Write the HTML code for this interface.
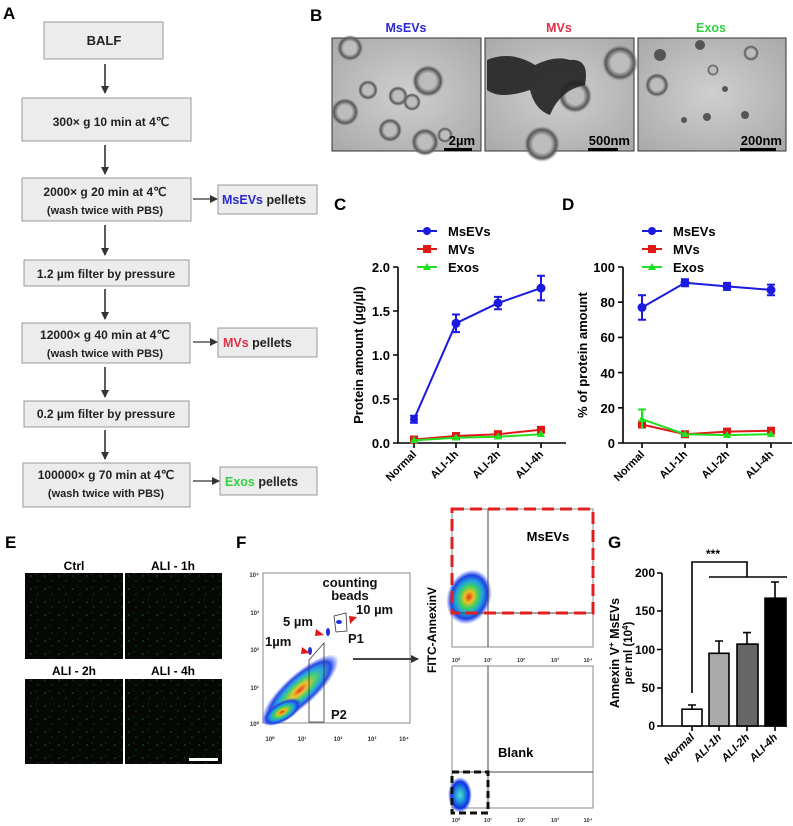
<!DOCTYPE html>
<html><head><meta charset="utf-8"><style>
body{margin:0;background:#fff}
svg{display:block}
text{font-family:"Liberation Sans",Arial,sans-serif;font-weight:bold}
</style></head><body>
<svg width="793" height="826" viewBox="0 0 793 826" xmlns="http://www.w3.org/2000/svg">
<defs>
<marker id="ah" markerWidth="8" markerHeight="8" refX="7" refY="4" orient="auto" markerUnits="userSpaceOnUse"><path d="M0,0 L8,4 L0,8 z" fill="#333"/></marker>
<radialGradient id="tem" cx="50%" cy="50%" r="70%"><stop offset="0" stop-color="#cfcfcf"/><stop offset="1" stop-color="#a9a9a9"/></radialGradient>
<radialGradient id="fl" cx="50%" cy="50%" r="50%"><stop offset="0" stop-color="#e03020"/><stop offset="0.2" stop-color="#f0c020"/><stop offset="0.4" stop-color="#40d060"/><stop offset="0.6" stop-color="#20a0e0"/><stop offset="0.8" stop-color="#2040e0"/><stop offset="1" stop-color="#3050ff" stop-opacity="0"/></radialGradient>
<radialGradient id="fl2" cx="50%" cy="50%" r="50%"><stop offset="0" stop-color="#50e0d0"/><stop offset="0.4" stop-color="#2090e0"/><stop offset="0.75" stop-color="#1030e0"/><stop offset="1" stop-color="#3050ff" stop-opacity="0"/></radialGradient>
<radialGradient id="cell" cx="50%" cy="50%" r="50%"><stop offset="0.5" stop-color="#bdbdbd"/><stop offset="0.8" stop-color="#555"/><stop offset="1" stop-color="#888" stop-opacity="0"/></radialGradient>
<pattern id="dots" width="14" height="13" patternUnits="userSpaceOnUse"><rect width="14" height="13" fill="#050805"/><circle cx="3" cy="4" r="0.8" fill="#1d5a1d"/><circle cx="10" cy="9" r="0.7" fill="#174a17"/><circle cx="8" cy="2" r="0.5" fill="#2a702a"/></pattern>
</defs>

<!-- Panel A -->
<text x="3" y="19" font-size="17">A</text>
<g fill="#ececec" stroke="#999" stroke-width="1">
<rect x="44" y="22" width="119" height="37"/>
<rect x="22" y="98" width="169" height="43"/>
<rect x="22" y="178" width="169" height="43"/>
<rect x="24" y="260" width="165" height="26"/>
<rect x="22" y="323" width="168" height="40"/>
<rect x="24" y="401" width="165" height="26"/>
<rect x="23" y="463" width="167" height="44"/>
<rect x="218" y="185" width="99" height="29"/>
<rect x="218" y="328" width="99" height="29"/>
<rect x="220" y="467" width="97" height="28"/>
</g>
<g font-size="12" text-anchor="middle" fill="#222">
<text x="104" y="45" font-size="13">BALF</text>
<text x="111" y="126">300× g 10 min at  4℃</text>
<text x="105" y="196">2000× g 20 min at  4℃</text>
<text x="105" y="214" font-size="11">(wash twice with PBS)</text>
<text x="106" y="278">1.2 µm filter by pressure</text>
<text x="105" y="339">12000× g 40 min at  4℃</text>
<text x="105" y="357" font-size="11">(wash twice with PBS)</text>
<text x="106" y="418">0.2 µm filter by pressure</text>
<text x="106" y="479">100000× g 70 min at  4℃</text>
<text x="106" y="497" font-size="11">(wash twice with PBS)</text>
</g>
<g font-size="12.5" fill="#222">
<text x="222" y="204"><tspan fill="#2a2ad0">MsEVs</tspan> pellets</text>
<text x="223" y="347"><tspan fill="#e0304a">MVs</tspan> pellets</text>
<text x="225" y="486"><tspan fill="#30d040">Exos</tspan> pellets</text>
</g>
<g stroke="#333" stroke-width="1.6" marker-end="url(#ah)">
<line x1="105" y1="64" x2="105" y2="93"/>
<line x1="105" y1="145" x2="105" y2="174"/>
<line x1="105" y1="225" x2="105" y2="255"/>
<line x1="105" y1="289" x2="105" y2="319"/>
<line x1="105" y1="367" x2="105" y2="397"/>
<line x1="105" y1="430" x2="105" y2="459"/>
</g>
<g stroke="#333" stroke-width="1.3" marker-end="url(#ah)">
<line x1="193" y1="199" x2="217" y2="199"/>
<line x1="193" y1="342" x2="217" y2="342"/>
<line x1="193" y1="481" x2="219" y2="481"/>
</g>

<!-- Panel B -->
<text x="310" y="21" font-size="17">B</text>
<g font-size="12.5" text-anchor="middle">
<text x="406" y="32" fill="#2a2ad0">MsEVs</text>
<text x="559" y="32" fill="#e0304a">MVs</text>
<text x="711" y="32" fill="#30d040">Exos</text>
</g>
<rect x="332" y="38" width="149" height="113" fill="url(#tem)" stroke="#333"/>
<rect x="485" y="38" width="149" height="113" fill="url(#tem)" stroke="#333"/>
<rect x="638" y="38" width="148" height="113" fill="url(#tem)" stroke="#333"/>
<g fill="url(#cell)">
<circle cx="428" cy="81" r="16"/><circle cx="368" cy="90" r="10"/><circle cx="398" cy="96" r="10"/><circle cx="345" cy="112" r="14"/><circle cx="390" cy="130" r="12"/><circle cx="425" cy="142" r="14"/><circle cx="412" cy="102" r="9"/><circle cx="350" cy="48" r="13"/><circle cx="445" cy="135" r="8"/>
<circle cx="620" cy="63" r="18"/><circle cx="575" cy="96" r="17"/><circle cx="542" cy="144" r="18"/><circle cx="751" cy="53" r="8"/><circle cx="657" cy="85" r="12"/><circle cx="713" cy="70" r="6"/>
</g>
<path d="M487,60 Q510,50 535,65 Q555,55 570,60 Q590,58 585,85 Q560,90 550,115 Q535,110 530,90 Q500,100 487,90 z" fill="#222" opacity="0.9"/>
<g fill="#555"><circle cx="707" cy="117" r="4"/><circle cx="745" cy="115" r="4"/><circle cx="684" cy="120" r="3"/><circle cx="725" cy="89" r="3"/><circle cx="660" cy="55" r="6"/><circle cx="700" cy="45" r="5"/></g>
<g font-size="13" fill="#000" text-anchor="end">
<text x="475" y="145">2µm</text><text x="630" y="145">500nm</text><text x="782" y="145">200nm</text>
</g>
<g fill="#000"><rect x="444" y="148" width="28" height="3"/><rect x="588" y="148" width="30" height="3"/><rect x="740" y="148" width="36" height="3"/></g>

<!-- Panel C -->
<text x="334" y="210" font-size="17">C</text>
<g font-size="13">
<line x1="417" y1="231" x2="437" y2="231" stroke="#1a1ae0" stroke-width="2"/><circle cx="427" cy="231" r="4" fill="#1a1ae0"/><text x="448" y="236">MsEVs</text>
<line x1="417" y1="249" x2="437" y2="249" stroke="#e01818" stroke-width="2"/><rect x="423" y="245" width="8" height="8" fill="#e01818"/><text x="448" y="254">MVs</text>
<line x1="417" y1="267" x2="437" y2="267" stroke="#20e020" stroke-width="2"/><path d="M427,263 L431,270 L423,270z" fill="#20e020"/><text x="448" y="272">Exos</text>
</g>
<g stroke="#000" stroke-width="1.6" fill="none">
<path d="M398,267 V443 H566"/>
<path d="M393,267H398M393,311H398M393,355H398M393,399H398M393,443H398"/>
<path d="M414,443v5M456,443v5M498,443v5M541,443v5"/>
</g>
<g font-size="13" text-anchor="end">
<text x="390" y="272">2.0</text><text x="390" y="316">1.5</text><text x="390" y="360">1.0</text><text x="390" y="404">0.5</text><text x="390" y="448">0.0</text>
</g>
<text transform="translate(363,355) rotate(-90)" font-size="13" text-anchor="middle">Protein amount (µg/µl)</text>
<g font-size="11" text-anchor="end">
<text transform="translate(417,455) rotate(-45)">Normal</text>
<text transform="translate(459,455) rotate(-45)">ALI-1h</text>
<text transform="translate(501,455) rotate(-45)">ALI-2h</text>
<text transform="translate(544,455) rotate(-45)">ALI-4h</text>
</g>
<g stroke="#1a1ae0" stroke-width="2" fill="none">
<polyline points="414,419.2 456,323.3 498,303.1 541,288.1"/>
<path d="M414,415.7V422.7M410,415.7h8M410,422.7h8M456,314.5V332.1M452,314.5h8M452,332.1h8M498,296.9V309.3M494,296.9h8M494,309.3h8M541,275.8V300.4M537,275.8h8M537,300.4h8"/>
</g>
<g fill="#1a1ae0"><circle cx="414" cy="419.2" r="4"/><circle cx="456" cy="323.3" r="4.5"/><circle cx="498" cy="303.1" r="4.5"/><circle cx="541" cy="288.1" r="4.5"/></g>
<polyline points="414,439.5 456,436 498,434.2 541,429.8" stroke="#e01818" stroke-width="2" fill="none"/>
<g fill="#e01818"><rect x="410" y="435.5" width="8" height="8"/><rect x="452" y="432" width="8" height="8"/><rect x="494" y="430.2" width="8" height="8"/><rect x="537" y="425.8" width="8" height="8"/></g>
<polyline points="414,440.4 456,437.7 498,436.8 541,434.2" stroke="#20e020" stroke-width="2" fill="none"/>
<g fill="#20e020"><path d="M414,436l4,7h-8z"/><path d="M456,433.5l4,7h-8z"/><path d="M498,432.5l4,7h-8z"/><path d="M541,430l4,7h-8z"/></g>

<!-- Panel D -->
<text x="562" y="210" font-size="17">D</text>
<g font-size="13">
<line x1="642" y1="231" x2="662" y2="231" stroke="#1a1ae0" stroke-width="2"/><circle cx="652" cy="231" r="4" fill="#1a1ae0"/><text x="673" y="236">MsEVs</text>
<line x1="642" y1="249" x2="662" y2="249" stroke="#e01818" stroke-width="2"/><rect x="648" y="245" width="8" height="8" fill="#e01818"/><text x="673" y="254">MVs</text>
<line x1="642" y1="267" x2="662" y2="267" stroke="#20e020" stroke-width="2"/><path d="M652,263 L656,270 L648,270z" fill="#20e020"/><text x="673" y="272">Exos</text>
</g>
<g stroke="#000" stroke-width="1.6" fill="none">
<path d="M623,267 V443 H792"/>
<path d="M618,267H623M618,302.2H623M618,337.4H623M618,372.6H623M618,407.8H623M618,443H623"/>
<path d="M642,443v5M685,443v5M727,443v5M771,443v5"/>
</g>
<g font-size="13" text-anchor="end">
<text x="615" y="272">100</text><text x="615" y="307">80</text><text x="615" y="342">60</text><text x="615" y="378">40</text><text x="615" y="413">20</text><text x="615" y="448">0</text>
</g>
<text transform="translate(587,355) rotate(-90)" font-size="13" text-anchor="middle">% of protein amount</text>
<g font-size="11" text-anchor="end">
<text transform="translate(645,455) rotate(-45)">Normal</text>
<text transform="translate(688,455) rotate(-45)">ALI-1h</text>
<text transform="translate(730,455) rotate(-45)">ALI-2h</text>
<text transform="translate(774,455) rotate(-45)">ALI-4h</text>
</g>
<g stroke="#1a1ae0" stroke-width="2" fill="none">
<polyline points="642,307.5 685,282.8 727,286.4 771,289.9"/>
<path d="M642,295.2V319.8M638,295.2h8M638,319.8h8M685,279.3V286.3M681,279.3h8M681,286.3h8M727,282.9V289.9M723,282.9h8M723,289.9h8M771,284.6V295.2M767,284.6h8M767,295.2h8"/>
</g>
<g fill="#1a1ae0"><circle cx="642" cy="307.5" r="4.5"/><circle cx="685" cy="282.8" r="4.5"/><circle cx="727" cy="286.4" r="4.5"/><circle cx="771" cy="289.9" r="4.5"/></g>
<polyline points="642,424.5 685,434.2 727,431.6 771,430.7" stroke="#e01818" stroke-width="2" fill="none"/>
<g fill="#e01818"><rect x="638" y="420.5" width="8" height="8"/><rect x="681" y="430.2" width="8" height="8"/><rect x="723" y="427.6" width="8" height="8"/><rect x="767" y="426.7" width="8" height="8"/></g>
<g stroke="#20e020" stroke-width="2" fill="none">
<polyline points="642,419.2 685,434.2 727,435.1 771,434.2"/>
<path d="M642,409.5V428.9M638,409.5h8"/>
</g>
<g fill="#20e020"><path d="M642,415l4,7h-8z"/><path d="M685,430l4,7h-8z"/><path d="M727,431l4,7h-8z"/><path d="M771,430l4,7h-8z"/></g>

<!-- Panel E -->
<text x="5" y="548" font-size="17">E</text>
<g font-size="12" text-anchor="middle">
<text x="74" y="570">Ctrl</text><text x="173" y="570">ALI - 1h</text>
<text x="74" y="675">ALI - 2h</text><text x="173" y="675">ALI - 4h</text>
</g>
<rect x="25" y="573" width="98" height="86" fill="url(#dots)"/>
<rect x="125" y="573" width="97" height="86" fill="url(#dots)"/>
<rect x="25" y="679" width="98" height="85" fill="url(#dots)"/>
<rect x="125" y="679" width="97" height="85" fill="url(#dots)"/>
<rect x="189" y="758" width="29" height="3" fill="#fff"/>

<!-- Panel F -->
<text x="236" y="548" font-size="17">F</text>
<rect x="263" y="573" width="147" height="150" fill="#fff" stroke="#888"/>
<ellipse cx="300" cy="690" rx="50" ry="16" transform="rotate(-42 300 690)" fill="url(#fl)" opacity="0.95"/>
<ellipse cx="282" cy="712" rx="22" ry="10" transform="rotate(-30 282 712)" fill="url(#fl)"/>
<g fill="#2030e0"><ellipse cx="310" cy="651" rx="2" ry="4"/><ellipse cx="328" cy="632" rx="2" ry="4"/><ellipse cx="339" cy="622" rx="3" ry="2"/></g>
<path d="M309,660 L324,643 V722 H309 Z" fill="none" stroke="#333" stroke-width="0.8"/>
<path d="M334,616 L346,613 L347,631 L336,632 Z" fill="none" stroke="#333" stroke-width="0.8"/>
<g fill="#e01818"><path d="M302,647 l8,6 l-9,1z"/><path d="M316,629 l8,6 l-9,1z"/><path d="M357,617 l-7,7 l-1,-8z"/></g>
<g font-size="13" fill="#111">
<text x="350" y="587" text-anchor="middle">counting</text><text x="350" y="600" text-anchor="middle">beads</text>
<text x="356" y="614">10 µm</text><text x="283" y="626">5 µm</text><text x="265" y="646">1µm</text>
<text x="348" y="643">P1</text><text x="331" y="719">P2</text>
</g>
<g font-size="6" fill="#333" text-anchor="end">
<text x="259" y="577">10⁴</text><text x="259" y="615">10³</text><text x="259" y="652">10²</text><text x="259" y="690">10¹</text><text x="259" y="726">10⁰</text>
</g>
<g font-size="6" fill="#333" text-anchor="middle">
<text x="270" y="741">10⁰</text><text x="302" y="741">10¹</text><text x="338" y="741">10²</text><text x="372" y="741">10³</text><text x="404" y="741">10⁴</text>
</g>
<line x1="353" y1="659" x2="418" y2="659" stroke="#444" stroke-width="2" marker-end="url(#ah)"/>

<!-- flow top -->
<rect x="452" y="509" width="141" height="138" fill="#fff" stroke="#888"/>
<ellipse cx="469" cy="597" rx="22" ry="28" transform="rotate(20 469 597)" fill="url(#fl)"/>
<line x1="488" y1="509" x2="488" y2="647" stroke="#444"/>
<line x1="452" y1="613" x2="593" y2="613" stroke="#444"/>
<rect x="452" y="509" width="141" height="104" fill="none" stroke="#e02020" stroke-width="3" stroke-dasharray="12,6"/>
<text x="548" y="541" font-size="13" text-anchor="middle">MsEVs</text>
<!-- flow bottom -->
<rect x="452" y="666" width="141" height="142" fill="#fff" stroke="#888"/>
<ellipse cx="460" cy="795" rx="12" ry="18" fill="url(#fl2)"/>
<line x1="488" y1="666" x2="488" y2="808" stroke="#444"/>
<line x1="452" y1="772" x2="593" y2="772" stroke="#444"/>
<rect x="452" y="772" width="36" height="41" fill="none" stroke="#111" stroke-width="3" stroke-dasharray="7,4"/>
<text x="498" y="757" font-size="13">Blank</text>
<text transform="translate(436,630) rotate(-90)" font-size="12" text-anchor="middle">FITC-AnnexinV</text>
<g font-size="5.5" fill="#333" text-anchor="middle">
<text x="456" y="662">10⁰</text><text x="488" y="662">10¹</text><text x="521" y="662">10²</text><text x="555" y="662">10³</text><text x="588" y="662">10⁴</text>
<text x="456" y="822">10⁰</text><text x="488" y="822">10¹</text><text x="521" y="822">10²</text><text x="555" y="822">10³</text><text x="588" y="822">10⁴</text>
</g>

<!-- Panel G -->
<text x="608" y="548" font-size="17">G</text>
<g stroke="#000" stroke-width="1.6" fill="none">
<path d="M662,573 V726 H787"/>
<path d="M657,573H662M657,611H662M657,649.5H662M657,688H662M657,726H662"/>
<path d="M692,726v5M719,726v5M747,726v5M775,726v5"/>
<path d="M692,693 V562 H747 V577 M709,577 H787"/>
</g>
<text x="713" y="558" font-size="12" text-anchor="middle">***</text>
<g font-size="12" text-anchor="end">
<text x="655" y="577">200</text><text x="655" y="615">150</text><text x="655" y="654">100</text><text x="655" y="692">50</text><text x="655" y="730">0</text>
</g>
<g stroke="#000" stroke-width="1.6">
<path d="M692,709V705M688,705h8M719,653V641M715,641h8M747,644V632.6M743,632.6h8M775,598V582M771,582h8"/>
<rect x="682" y="709.2" width="20" height="16.8" fill="#fff"/>
<rect x="709" y="653.3" width="20" height="72.7" fill="#aaa"/>
<rect x="737" y="644.1" width="21" height="81.9" fill="#666"/>
<rect x="765" y="598.2" width="21" height="127.8" fill="#000"/>
</g>
<text transform="translate(619,653) rotate(-90)" font-size="12.5" text-anchor="middle">Annexin V<tspan font-size="8" dy="-5">+</tspan><tspan dy="5"> MsEVs</tspan></text>
<text transform="translate(632,653) rotate(-90)" font-size="11.5" text-anchor="middle">per ml (10<tspan font-size="8" dy="-4">4</tspan><tspan dy="4">)</tspan></text>
<g font-size="11" text-anchor="end" font-style="italic">
<text transform="translate(695,738) rotate(-45)">Normal</text>
<text transform="translate(722,738) rotate(-45)">ALI-1h</text>
<text transform="translate(750,738) rotate(-45)">ALI-2h</text>
<text transform="translate(778,738) rotate(-45)">ALI-4h</text>
</g>
</svg>
</body></html>
